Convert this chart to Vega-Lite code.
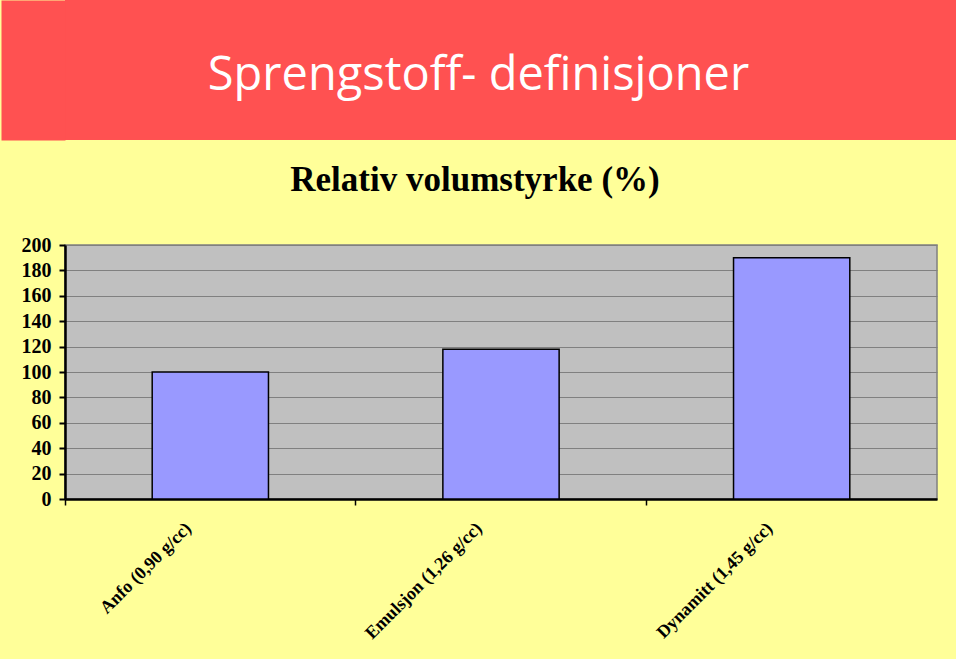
{
  "$schema": "https://vega.github.io/schema/vega-lite/v6.json",
  "background": "#FFFF99",
  "padding": {"left": 0, "top": 0, "right": 0, "bottom": 20},
  "spacing": 22,
  "config": {"view": {"stroke": null}},
  "vconcat": [
    {
      "width": 891,
      "height": 140,
      "view": {"fill": "#FF5151", "stroke": null},
      "data": {"values": [{"heading": "Sprengstoff- definisjoner"}]},
      "mark": {"type": "text", "font": "Open Sans", "fontSize": 47, "color": "#FFFFFF", "baseline": "middle", "align": "center", "dx": -32, "dy": 6},
      "encoding": {
        "text": {"field": "heading", "type": "nominal"},
        "y": {
          "field": "heading",
          "type": "nominal",
          "scale": {"paddingInner": 0, "paddingOuter": 0},
          "axis": {
            "title": null,
            "labels": false,
            "ticks": false,
            "grid": false,
            "domain": true,
            "domainColor": "#FF5151",
            "domainWidth": 64,
            "offset": 32,
            "minExtent": 0,
            "maxExtent": 0
          }
        }
      }
    },
    {
      "width": 872,
      "height": 254,
      "view": {"fill": "#C0C0C0", "stroke": "#808080", "strokeWidth": 1.5},
      "title": {
        "text": "Relativ volumstyrke (%)",
        "font": "Liberation Serif",
        "fontSize": 35,
        "fontWeight": "bold",
        "color": "#000000",
        "anchor": "middle",
        "dx": -26,
        "offset": 37
      },
      "data": {"values": [
        {"sprengstoff": "Anfo (0,90 g/cc)", "styrke": 100},
        {"sprengstoff": "Emulsjon (1,26 g/cc)", "styrke": 118},
        {"sprengstoff": "Dynamitt (1,45 g/cc)", "styrke": 190}
      ]},
      "mark": {"type": "bar", "fill": "#9999FF", "stroke": "#000000", "strokeWidth": 1.5, "width": {"band": 0.4}},
      "encoding": {
        "x": {
          "field": "sprengstoff",
          "type": "nominal",
          "sort": null,
          "scale": {"paddingInner": 0, "paddingOuter": 0},
          "axis": {
            "title": null,
            "bandPosition": 0,
            "labelOffset": -28,
            "labelAngle": -45,
            "labelFont": "Liberation Serif",
            "labelFontSize": 18,
            "labelFontWeight": "bold",
            "labelColor": "#000000",
            "labelPadding": 14,
            "tickSize": 6,
            "tickColor": "#000000",
            "tickWidth": 1.5,
            "domainColor": "#000000",
            "domainWidth": 2.5,
            "grid": false
          }
        },
        "y": {
          "field": "styrke",
          "type": "quantitative",
          "scale": {"domain": [0, 200], "nice": false},
          "axis": {
            "title": null,
            "values": [0, 20, 40, 60, 80, 100, 120, 140, 160, 180, 200],
            "labelFont": "Liberation Serif",
            "labelFontSize": 20,
            "labelFontWeight": "bold",
            "labelColor": "#000000",
            "labelPadding": 8,
            "tickSize": 6,
            "tickColor": "#000000",
            "tickWidth": 2,
            "domainColor": "#000000",
            "domainWidth": 2.5,
            "grid": true,
            "gridColor": "#808080",
            "gridWidth": 1,
            "minExtent": 64,
            "maxExtent": 64
          }
        }
      }
    }
  ]
}
